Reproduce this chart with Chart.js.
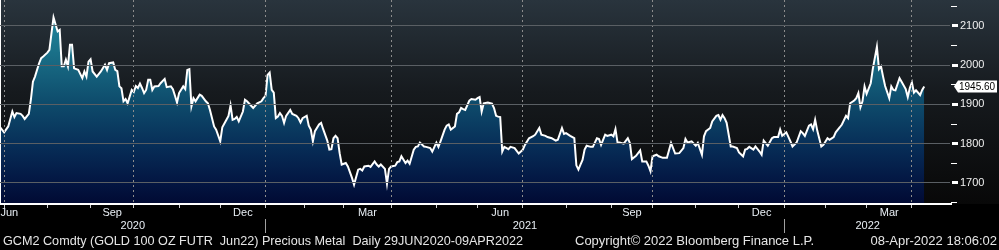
<!DOCTYPE html>
<html>
<head>
<meta charset="utf-8">
<script src="https://cdn.jsdelivr.net/npm/chart.js@4.4.1/dist/chart.umd.min.js"></script>
<style>
  html, body { margin: 0; padding: 0; background: #000; }
  #wrap { width: 999px; height: 250px; }
  #myChart {
    background: linear-gradient(to bottom, #29343d 0px, #161a1e 92px, #080808 204px, #000 204px, #000 250px);
  }
</style>
</head>
<body>
<div id="wrap"><canvas id="myChart"></canvas></div>
<script>
// trading day index (0 = 29 Jun 2020) and price
const days = [0, 2, 4, 6, 7, 8, 10, 11, 12, 14, 15, 16, 17, 19, 20, 21, 23, 24, 25, 26, 28, 29, 30, 31, 32, 33, 34, 35, 36, 38, 40, 41, 42, 43, 44, 45, 47, 49, 51, 52, 53, 55, 56, 57, 58, 59, 60, 61, 62, 64, 65, 66, 67, 68, 69, 70, 71, 72, 73, 74, 75, 77, 78, 80, 81, 83, 84, 85, 86, 87, 89, 90, 91, 92, 93, 94, 95, 97, 98, 100, 101, 102, 104, 105, 107, 108, 110, 111, 112, 113, 114, 115, 116, 118, 119, 120, 123, 125, 127, 128, 129, 130, 131, 132, 133, 134, 135, 136, 137, 138, 139, 141, 142, 144, 145, 146, 147, 149, 150, 151, 152, 153, 155, 156, 157, 159, 160, 161, 162, 163, 164, 165, 166, 168, 169, 171, 172, 174, 175, 176, 177, 179, 180, 182, 183, 184, 185, 187, 188, 189, 190, 192, 193, 194, 195, 197, 198, 199, 201, 202, 203, 204, 206, 207, 209, 210, 212, 213, 214, 216, 217, 218, 219, 221, 222, 223, 224, 225, 226, 228, 229, 231, 232, 233, 234, 235, 237, 239, 240, 241, 242, 243, 244, 245, 247, 248, 250, 252, 254, 255, 257, 259, 260, 262, 263, 265, 266, 268, 270, 271, 273, 274, 275, 277, 279, 280, 281, 282, 283, 284, 285, 287, 288, 290, 291, 292, 294, 295, 297, 298, 299, 300, 301, 303, 305, 306, 307, 309, 311, 312, 314, 315, 316, 317, 319, 320, 322, 324, 326, 328, 330, 332, 333, 334, 336, 338, 339, 341, 342, 343, 345, 346, 348, 349, 350, 351, 352, 353, 355, 356, 358, 359, 361, 362, 363, 364, 366, 367, 369, 370, 371, 373, 375, 376, 378, 379, 380, 382, 384, 385, 387, 389, 390, 391, 393, 394, 395, 396, 397, 399, 400, 402, 403, 405, 406, 408, 409, 411, 412, 413, 415, 416, 417, 418, 419, 420, 421, 423, 424, 426, 427, 428, 429, 430, 432, 433, 434, 435, 437, 438, 440, 441, 442, 443, 444, 445, 447, 448, 449];
const prices = [1842, 1829, 1844, 1882, 1868, 1878, 1876, 1871, 1863, 1876, 1912, 1958, 1971, 2005, 2018, 2022, 2032, 2039, 2081, 2122, 2086, 2090, 1997, 1997, 2014, 1997, 2052, 2052, 1992, 1988, 1967, 1984, 1971, 2009, 2015, 1984, 1971, 1984, 2001, 1988, 2005, 2007, 1988, 1985, 1946, 1941, 1908, 1914, 1903, 1937, 1932, 1947, 1942, 1953, 1942, 1929, 1937, 1963, 1963, 1937, 1946, 1947, 1954, 1965, 1944, 1946, 1939, 1922, 1905, 1929, 1946, 1939, 1988, 1990, 1895, 1916, 1908, 1925, 1922, 1908, 1903, 1886, 1844, 1836, 1806, 1842, 1861, 1871, 1898, 1861, 1863, 1868, 1857, 1882, 1912, 1908, 1891, 1903, 1908, 1916, 1922, 1975, 1981, 1937, 1930, 1865, 1869, 1878, 1871, 1853, 1871, 1886, 1876, 1871, 1865, 1854, 1865, 1871, 1846, 1836, 1806, 1832, 1849, 1853, 1837, 1808, 1785, 1786, 1814, 1820, 1814, 1776, 1747, 1751, 1742, 1713, 1696, 1734, 1736, 1732, 1742, 1744, 1741, 1755, 1747, 1742, 1747, 1736, 1698, 1736, 1742, 1744, 1753, 1755, 1768, 1751, 1757, 1749, 1785, 1792, 1793, 1803, 1793, 1792, 1789, 1780, 1803, 1792, 1806, 1836, 1846, 1849, 1836, 1844, 1876, 1880, 1891, 1888, 1886, 1910, 1914, 1912, 1916, 1919, 1882, 1903, 1905, 1902, 1891, 1871, 1869, 1868, 1780, 1792, 1786, 1792, 1789, 1775, 1785, 1797, 1814, 1819, 1823, 1840, 1823, 1820, 1817, 1814, 1808, 1810, 1840, 1825, 1827, 1820, 1814, 1745, 1734, 1747, 1759, 1785, 1795, 1792, 1792, 1814, 1812, 1797, 1823, 1820, 1823, 1819, 1837, 1803, 1803, 1800, 1814, 1802, 1761, 1769, 1783, 1755, 1755, 1744, 1730, 1768, 1772, 1768, 1764, 1764, 1802, 1775, 1776, 1789, 1812, 1803, 1806, 1795, 1802, 1772, 1819, 1832, 1840, 1857, 1871, 1873, 1861, 1873, 1865, 1853, 1793, 1793, 1789, 1778, 1768, 1785, 1787, 1792, 1785, 1793, 1780, 1772, 1808, 1795, 1814, 1817, 1817, 1836, 1820, 1829, 1806, 1793, 1803, 1832, 1827, 1820, 1846, 1849, 1837, 1861, 1834, 1793, 1797, 1814, 1810, 1817, 1829, 1842, 1849, 1871, 1865, 1903, 1910, 1916, 1929, 1893, 1908, 1946, 1927, 1954, 1990, 2047, 1990, 1997, 1971, 1947, 1916, 1946, 1937, 1936, 1967, 1958, 1939, 1919, 1942, 1956, 1930, 1936, 1924, 1937, 1945.6];

const monthStarts = [2, 23, 44, 65, 87, 107, 129, 148, 167, 190, 212, 232, 254, 275, 297, 317, 338, 359, 381, 401, 421, 443];
const quarterStarts = [2, 65, 129, 190, 254, 317, 381, 443];
const monthLabels = ['Jun', 'Sep', 'Dec', 'Mar', 'Jun', 'Sep', 'Dec', 'Mar'];
const monthLabelDays = [4.5, 54.5, 118, 178.5, 243, 307, 370, 432];
const yearLabels = ['2020', '2021', '2022'];
const yearLabelDays = [64.5, 255, 421.5];
const yearStarts = [129, 381];
const yMajor = [1700, 1800, 1900, 2000, 2100];
const yMinor = [1650, 1750, 1850, 1950, 2050, 2150];
const lastLabel = '1945.60';

const footerLeft = 'GCM2 Comdty (GOLD 100 OZ FUTR  Jun22) Precious Metal  Daily 29JUN2020-09APR2022';
const footerMid = 'Copyright\u00a9 2022 Bloomberg Finance L.P.';
const footerRight = '08-Apr-2022 18:06:02';

const FONT = '"Liberation Sans", Arial, sans-serif';
const GRID = '#8c8c8c';

// dotted grid colour for the vertical lines: 2px on / 3px off
function dashPattern() {
  const c = document.createElement('canvas');
  c.width = 1;
  c.height = 5;
  const g = c.getContext('2d');
  g.fillStyle = GRID;
  g.fillRect(0, 0, 1, 2);
  return g.createPattern(c, 'repeat');
}

// keep every axis box at a fixed size
function fixSize(size) {
  return function (scale) {
    if (scale.isHorizontal()) scale.height = size; else scale.width = size;
    scale.paddingLeft = 0;
    scale.paddingRight = 0;
    scale.paddingTop = 0;
    scale.paddingBottom = 0;
  };
}

function setTicks(values) {
  return function (scale) {
    scale.ticks = values.map(v => ({ value: v }));
  };
}

const bbgPlugin = {
  id: 'bbg',
  afterDraw(chart) {
    const { ctx, chartArea } = chart;
    ctx.save();
    // footer line
    ctx.font = '13px ' + FONT;
    ctx.fillStyle = '#e6e6e6';
    ctx.textBaseline = 'middle';
    ctx.textAlign = 'left';
    ctx.fillText(footerLeft, 3, 241, 520);
    ctx.fillText(footerMid, 575, 241, 240);
    ctx.textAlign = 'right';
    ctx.fillText(footerRight, 997, 241, 130);

    // last price tag
    const y = chart.scales.y.getPixelForValue(prices[prices.length - 1]);
    const x = chartArea.right + 3;
    ctx.fillStyle = '#ffffff';
    ctx.beginPath();
    ctx.moveTo(x, y);
    ctx.lineTo(x + 4, y - 6);
    ctx.lineTo(997, y - 6);
    ctx.lineTo(997, y + 6);
    ctx.lineTo(x + 4, y + 6);
    ctx.closePath();
    ctx.fill();
    ctx.fillStyle = '#000';
    ctx.font = '10px ' + FONT;
    ctx.textAlign = 'left';
    ctx.fillText(lastLabel, x + 5, y + 0.5);
    ctx.restore();
  }
};

const ctx = document.getElementById('myChart');
const myChart = new Chart(ctx, {
  type: 'line',
  data: {
    datasets: [{
      data: days.map((d, i) => ({ x: d, y: prices[i] })),
      borderColor: '#ffffff',
      borderWidth: 2,
      pointRadius: 0,
      tension: 0,
      fill: 'start',
      backgroundColor: function (context) {
        const area = context.chart.chartArea;
        if (!area) return 'rgba(0,0,0,0)';
        const g = context.chart.ctx.createLinearGradient(0, area.top, 0, area.bottom);
        g.addColorStop(0, '#2290a8');
        g.addColorStop(0.25, '#1a7189');
        g.addColorStop(0.5, '#0e4c6c');
        g.addColorStop(0.72, '#072d57');
        g.addColorStop(0.9, '#031541');
        g.addColorStop(1, '#010a33');
        return g;
      }
    }]
  },
  options: {
    responsive: true,
    maintainAspectRatio: false,
    animation: false,
    layout: { padding: { left: 0, right: 0, top: 0, bottom: 18 } },
    plugins: {
      legend: { display: false },
      tooltip: { enabled: false },
      filler: { drawTime: 'beforeDraw' } // fill under the grid, line over it
    },
    scales: {
      // quarter grid lines
      xq: {
        type: 'linear',
        position: 'bottom',
        weight: -1,
        min: 0,
        max: 462,
        afterBuildTicks: setTicks(quarterStarts),
        afterFit: fixSize(0),
        ticks: { display: false },
        grid: { z: 1, color: dashPattern(), lineWidth: 1, drawTicks: false },
        border: { display: false }
      },
      // month tick marks and the axis line
      x: {
        type: 'linear',
        position: 'bottom',
        weight: 0,
        min: 0,
        max: 462,
        afterBuildTicks: setTicks(monthStarts),
        afterFit: fixSize(2),
        ticks: { display: false },
        grid: {
          drawOnChartArea: false,
          drawTicks: true,
          tickLength: 4,
          tickColor: '#cfcfcf'
        },
        border: { display: true, color: '#ffffff', width: 2, z: 1 }
      },
      xMonth: {
        type: 'linear',
        position: 'bottom',
        weight: 1,
        min: 0,
        max: 462,
        afterBuildTicks: setTicks(monthLabelDays),
        afterFit: fixSize(13),
        grid: { display: false, drawTicks: false },
        border: { display: false },
        ticks: {
          autoSkip: false,
          maxRotation: 0,
          padding: 0,
          color: '#e8eef4',
          font: { family: FONT, size: 11 },
          callback: function (v, i) { return monthLabels[i]; }
        }
      },
      xYear: {
        type: 'linear',
        position: 'bottom',
        weight: 2,
        min: 0,
        max: 462,
        afterBuildTicks: setTicks(yearLabelDays.concat(yearStarts).sort((a, b) => a - b)),
        afterFit: fixSize(13),
        grid: {
          display: true,
          drawOnChartArea: false,
          drawTicks: true,
          tickLength: 14,
          tickColor: function (c) {
            return yearStarts.includes(c.tick && c.tick.value) ? '#a0a0a0' : 'rgba(0,0,0,0)';
          }
        },
        border: { display: false },
        ticks: {
          autoSkip: false,
          maxRotation: 0,
          padding: -14,
          color: '#e8eef4',
          font: { family: FONT, size: 11 },
          callback: function (v) {
            const k = yearLabelDays.indexOf(v);
            return k >= 0 ? yearLabels[k] : '';
          }
        }
      },
      // minor tick marks at the 50s
      yMinor: {
        type: 'linear',
        position: 'right',
        weight: 0,
        min: 1646.5,
        max: 2166,
        afterBuildTicks: setTicks(yMinor),
        afterFit: fixSize(0),
        ticks: { display: false },
        grid: {
          drawOnChartArea: false,
          drawTicks: true,
          tickLength: 6,
          tickWidth: 1,
          tickColor: '#ffffff'
        },
        border: { display: false }
      },
      y: {
        type: 'linear',
        position: 'right',
        weight: 1,
        min: 1646.5,
        max: 2166,
        afterBuildTicks: setTicks(yMajor),
        afterFit: fixSize(48),
        grid: {
          z: 1,
          color: '#5a5f64',
          lineWidth: 1,
          drawTicks: true,
          tickLength: 7,
          tickWidth: 3,
          tickColor: '#ffffff'
        },
        border: { display: true, color: '#ffffff', width: 2 },
        ticks: {
          padding: 2,
          color: '#f0f0f0',
          font: { family: FONT, size: 11 },
          callback: function (v) { return String(v); }
        }
      }
    }
  },
  plugins: [bbgPlugin]
});
</script>
</body>
</html>
